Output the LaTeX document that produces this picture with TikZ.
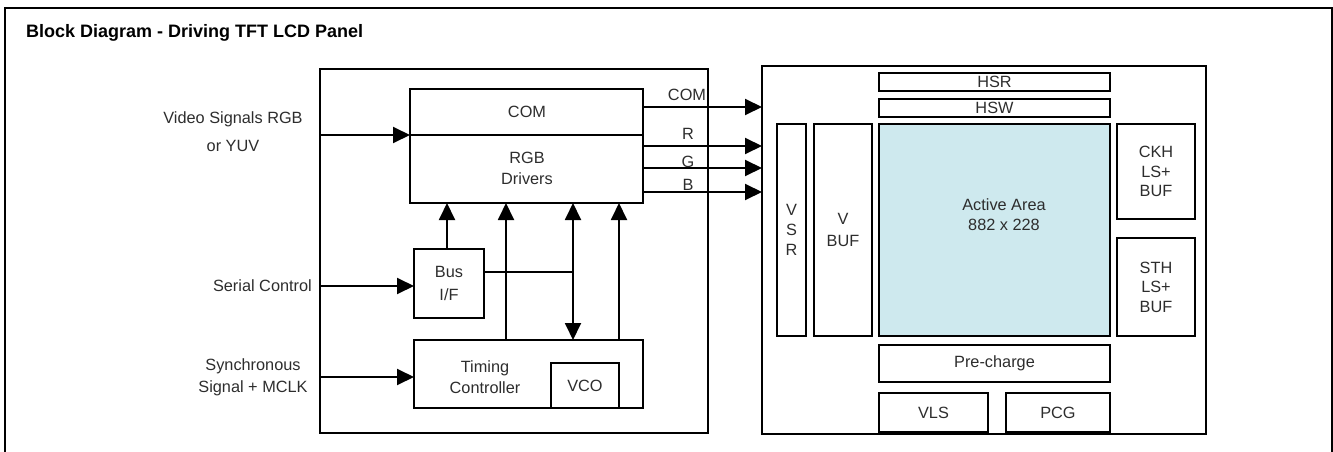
\documentclass[tikz,border=0pt]{standalone}
\usepackage{fontspec}
\setmainfont{Liberation Sans}
\usetikzlibrary{arrows.meta}
\definecolor{txt}{RGB}{45,45,45}
\definecolor{activefill}{RGB}{206,233,238}
\begin{document}
\begin{tikzpicture}[x=1pt,y=-1pt,
  blk/.style={draw=black, line width=1.9pt, inner sep=0pt, outer sep=0pt, anchor=north west, align=center, text=txt, font=\fontsize{16.3}{20}\selectfont},
  lbl/.style={text=txt, font=\fontsize{16.3}{20}\selectfont, align=center, inner sep=0pt},
  arr/.style={line width=1.9pt, -{Triangle[length=17pt,width=16pt]}},
  darr/.style={line width=1.9pt, {Triangle[length=17pt,width=16pt]}-{Triangle[length=17pt,width=16pt]}},
  ln/.style={line width=1.9pt}]
\useasboundingbox (0,0) rectangle (1333,452);
% outer frame
\coordinate (fbl) at (5,452);
\coordinate (ftl) at (5,8);
\coordinate (ftr) at (1332,8);
\coordinate (fbr) at (1332,452);
\draw[line width=2.4pt] (fbl) -- (ftl) -- (ftr) -- (fbr);
\node[anchor=base west, inner sep=0pt, font=\fontsize{18}{22}\selectfont\bfseries] (title) at (26,38) {Block Diagram - Driving TFT LCD Panel};

% left block
\node[blk, minimum width=388pt, minimum height=364pt] (left) at (320,69) {};
\node[blk, minimum width=233pt, minimum height=114pt] (rgb) at (410,89) {};
\node[blk, minimum width=70pt, minimum height=69pt, font=\fontsize{16.3}{23}\selectfont] (bus) at (414,249) {Bus\\I/F};
\node[blk, minimum width=229pt, minimum height=68pt] (timing) at (414,340) {};
\node[blk, minimum width=68pt, minimum height=45pt] (vco) at (551,363) {VCO};
\node[lbl] (comlbl) at (527,112) {COM};
\node[lbl, font=\fontsize{16.3}{21}\selectfont] (rgblbl) at (527,168) {RGB\\Drivers};
\node[lbl, font=\fontsize{16.3}{21}\selectfont] (tclbl) at (485,377) {Timing\\Controller};

% inputs
\coordinate (vin) at (320,135);
\coordinate (sin) at (320,286);
\coordinate (yin) at (320,377);
\draw[ln] (rgb.west |- vin) -- (rgb.east |- vin);
\draw[arr] (vin) -- (vin -| rgb.west);
\draw[arr] (sin) -- (sin -| bus.west);
\draw[arr] (yin) -- (yin -| timing.west);
\node[lbl, font=\fontsize{16.3}{28}\selectfont] (vidlbl) at (233,132) {Video Signals RGB\\or YUV};
\node[lbl, anchor=east] (serlbl) at (312,286) {Serial Control};
\node[lbl, font=\fontsize{16.3}{22}\selectfont] (synlbl) at (253,377) {Synchronous\\Signal + MCLK};

% internal connections
\coordinate (t1) at (506,340);
\coordinate (t2) at (573,340);
\coordinate (t3) at (619,340);
\coordinate (bh) at (484,272);
\draw[arr] (bus.north -| 447,0) -- (447,0 |- rgb.south);
\draw[arr] (t1) -- (t1 |- rgb.south);
\draw[darr] (t2 |- rgb.south) -- (t2);
\draw[arr] (t3) -- (t3 |- rgb.south);
\draw[ln] (bh) -- (bh -| t2);

% right panel
\node[blk, minimum width=444pt, minimum height=368pt] (panel) at (762,66) {};
\node[blk, minimum width=231pt, minimum height=18pt] (hsr) at (879,73) {HSR};
\node[blk, minimum width=231pt, minimum height=18pt] (hsw) at (879,99) {HSW};
\node[blk, minimum width=29pt, minimum height=212pt] (vsr) at (777,124) {V\\S\\R};
\node[blk, minimum width=58pt, minimum height=212pt, font=\fontsize{16.3}{22}\selectfont] (vbuf) at (814,124) {V\\BUF};
\node[blk, fill=activefill, minimum width=231pt, minimum height=212pt] (active) at (879,124) {};
\node[lbl] (actlbl) at (1004,215) {Active Area\\882 x 228};
\node[blk, minimum width=78pt, minimum height=95pt, font=\fontsize{16.3}{19.5}\selectfont] (ckh) at (1117,124) {CKH\\LS+\\BUF};
\node[blk, minimum width=78pt, minimum height=98pt, font=\fontsize{16.3}{19.5}\selectfont] (sth) at (1117,238) {STH\\LS+\\BUF};
\node[blk, minimum width=231pt, minimum height=37pt] (pre) at (879,345) {Pre-charge};
\node[blk, minimum width=109pt, minimum height=39pt] (vls) at (879,393) {VLS};
\node[blk, minimum width=104pt, minimum height=39pt] (pcg) at (1006,393) {PCG};

% outputs
\coordinate (oc) at (643,107);
\coordinate (or) at (643,146);
\coordinate (og) at (643,168);
\coordinate (ob) at (643,192);
\draw[arr] (oc) -- (oc -| panel.west);
\draw[arr] (or) -- (or -| panel.west);
\draw[arr] (og) -- (og -| panel.west);
\draw[arr] (ob) -- (ob -| panel.west);
\node[lbl] (comout) at (687,95) {COM};
\node[lbl] (rout) at (688,134) {R};
\node[lbl] (gout) at (688,162) {G};
\node[lbl] (bout) at (688,185) {B};
\end{tikzpicture}
\end{document}
